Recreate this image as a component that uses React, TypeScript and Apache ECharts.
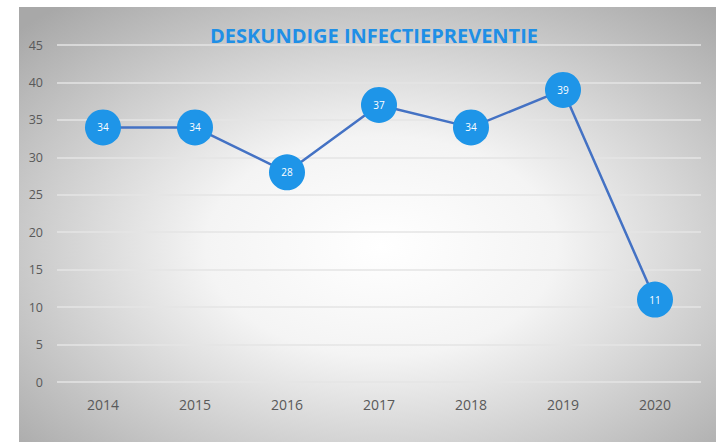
import React, { useEffect, useRef } from "react";
import * as echarts from "echarts";

const years = ["2014", "2015", "2016", "2017", "2018", "2019", "2020"];
const values = [34, 34, 28, 37, 34, 39, 11];
const title = "DESKUNDIGE INFECTIEPREVENTIE";

export default function App() {
  const ref = useRef<HTMLDivElement>(null);
  useEffect(() => {
    const chart = echarts.init(ref.current!, null, { renderer: "svg" });
    chart.setOption({
      animation: false,
      backgroundColor: {
        type: "radial",
        x: 0.52,
        y: 0.55,
        r: 0.72,
        colorStops: [
          { offset: 0, color: "#ffffff" },
          { offset: 0.35, color: "#f4f4f4" },
          { offset: 1, color: "#a8a8a8" },
        ],
      },
      title: {
        text: title,
        left: 350,
        textAlign: "center",
        top: 13,
        textStyle: {
          color: "#1f8fe6",
          fontSize: 20,
          fontWeight: "bold",
          fontFamily: "Open Sans",
        },
      },
      grid: { left: 38, right: 15, top: 38, bottom: 60 },
      xAxis: {
        type: "category",
        data: years,
        boundaryGap: true,
        axisLine: { show: false },
        axisTick: { show: false },
        axisLabel: { color: "#595959", fontSize: 14, fontFamily: "Open Sans", margin: 15 },
      },
      yAxis: {
        type: "value",
        min: 0,
        max: 45,
        interval: 5,
        axisLine: { show: false },
        axisTick: { show: false },
        axisLabel: { color: "#595959", fontSize: 12.5, fontFamily: "Open Sans", margin: 14 },
        splitLine: { lineStyle: { color: "#e4e4e4", width: 1.5 } },
      },
      series: [
        {
          type: "line",
          data: values,
          symbol: "circle",
          symbolSize: 36,
          lineStyle: { color: "#4472c4", width: 2.5 },
          itemStyle: { color: "#1e95e8" },
          label: {
            show: true,
            position: "inside",
            color: "#ffffff",
            fontSize: 10,
            fontFamily: "Open Sans",
          },
        },
      ],
    });
    return () => chart.dispose();
  }, []);
  return (
    <div style={{ position: "fixed", left: 0, top: 0, width: 716, height: 442, background: "#ffffff" }}>
      <div ref={ref} style={{ position: "absolute", left: 19, top: 7, width: 697, height: 435 }} />
    </div>
  );
}
